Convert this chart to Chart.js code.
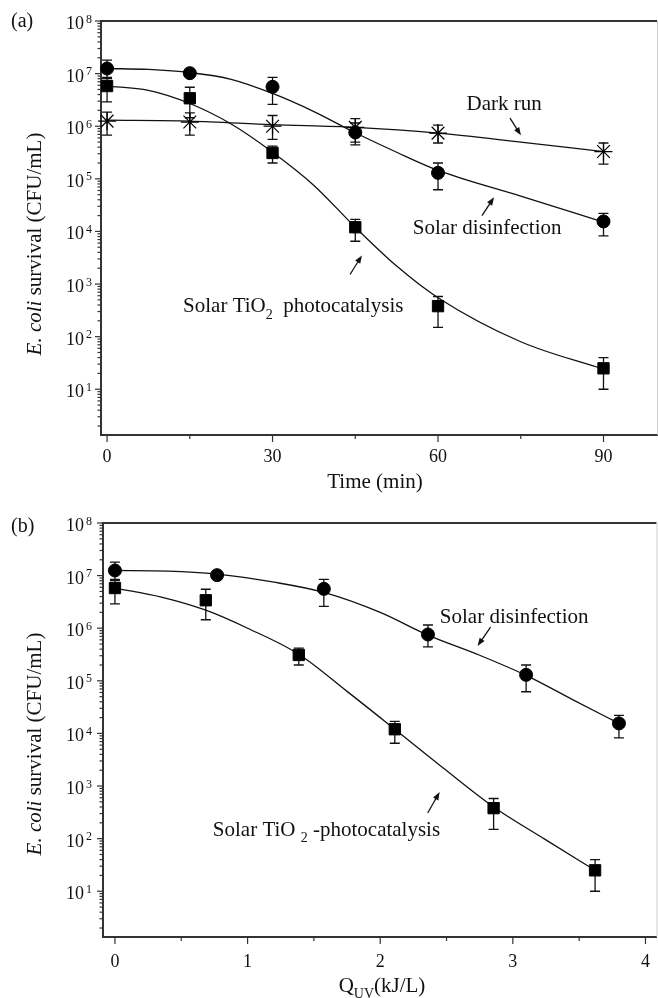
<!DOCTYPE html>
<html>
<head>
<meta charset="utf-8">
<script src="https://cdn.jsdelivr.net/npm/chart.js@4.4.1/dist/chart.umd.min.js"></script>
<style>
  html, body { margin: 0; padding: 0; background: #fff; }
  #wrap { position: relative; width: 658px; height: 998px; }
  canvas { position: absolute; left: 0; }
  #panelA { top: 0; }
  #panelB { top: 498px; }
</style>
</head>
<body>
<div id="wrap">
  <canvas id="panelA" width="658" height="498"></canvas>
  <canvas id="panelB" width="658" height="500"></canvas>
</div>
<script>
const timeMin = [0, 15, 30, 45, 60, 90];
const quvSolar = [0, 0.77, 1.575, 2.36, 3.10, 3.80];
const quvTio2 = [0, 0.685, 1.386, 2.11, 2.855, 3.62];

const solarCfu = [1.25e7, 1.02e7, 5.6e6, 7.6e5, 1.3e5, 1.55e4];
const solarHi = [1.8e7, 1.12e7, 8.5e6, 1.15e6, 2.0e5, 2.2e4];
const solarLo = [8.5e6, 9.2e6, 2.6e6, 4.4e5, 6.2e4, 8.2e3];

const tio2Cfu = [5.8e6, 3.4e6, 3.1e5, 1.2e4, 3.8e2, 25];
const tio2Hi = [8.0e6, 5.5e6, 4.2e5, 1.7e4, 5.8e2, 40];
const tio2Lo = [2.9e6, 1.45e6, 2.0e5, 6.5e3, 1.5e2, 10];

const darkCfu = [1.25e6, 1.2e6, 1.0e6, 9.5e5, 7.4e5, 3.3e5];
const darkHi = [1.85e6, 1.8e6, 1.6e6, 1.4e6, 1.05e6, 4.8e5];
const darkLo = [6.8e5, 6.8e5, 5.6e5, 5.0e5, 4.8e5, 1.9e5];

// fitted curves
const fitTime = [0, 7.5, 15, 22.5, 30, 37.5, 45, 52.5, 60, 75, 90];
const solarFitA = [1.25e7, 1.2e7, 1.05e7, 7.8e6, 4.2e6, 1.9e6, 7.5e5, 3.2e5, 1.45e5, 4.7e4, 1.5e4];
const tio2FitA = [5.8e6, 4.8e6, 2.7e6, 1.1e6, 3.2e5, 7.5e4, 1.2e4, 2.2e3, 5.5e2, 80, 24];
const darkFitTime = [0, 15, 30, 45, 60, 75, 90];
const darkFit = [1.3e6, 1.25e6, 1.07e6, 9.5e5, 7.4e5, 5.0e5, 3.3e5];

const fitQuvSolar = [0, 0.4, 0.77, 1.2, 1.575, 2.0, 2.36, 2.75, 3.10, 3.45, 3.80];
const solarFitB = [1.25e7, 1.22e7, 1.07e7, 7.5e6, 4.8e6, 2.0e6, 7.4e5, 3.06e5, 1.27e5, 4.4e4, 1.55e4];
const fitQuvTio2 = [0, 0.35, 0.685, 1.0, 1.386, 1.75, 2.11, 2.48, 2.855, 3.24, 3.62];
const tio2FitB = [5.8e6, 3.9e6, 2.2e6, 1.0e6, 3.2e5, 6.3e4, 1.2e4, 2.15e3, 4.0e2, 98, 25];

// axis ticks
const timeTicks = [0, 15, 30, 45, 60, 75, 90];
const timeLabels = [0, 30, 60, 90];
const quvTicks = [0, 0.5, 1, 1.5, 2, 2.5, 3, 3.5, 4];
const quvLabels = [0, 1, 2, 3, 4];
const yDecades = [1, 2, 3, 4, 5, 6, 7, 8];

const SERIF = '"Liberation Serif", "Times New Roman", serif';

function pts(xs, ys) {
    return xs.map((x, i) => ({x: x, y: ys[i]}));
}

function fontOf(p, size) {
    return (p.italic ? 'italic ' : '') + Math.round(p.sub ? size * 0.65 : size) + 'px ' + SERIF;
}

// draws text made of pieces (italic / subscript), y = middle of capitals
function richText(ctx, parts, x, y, align, size) {
    let w = 0;
    parts.forEach(p => { ctx.font = fontOf(p, size); w += ctx.measureText(p.t).width; });
    let cx = align === 'center' ? x - w / 2 : x;
    const base = y + size * 0.33;
    ctx.textAlign = 'left';
    ctx.textBaseline = 'alphabetic';
    parts.forEach(p => {
        ctx.font = fontOf(p, size);
        ctx.fillText(p.t, cx, p.sub ? base + size * 0.3 : base);
        cx += ctx.measureText(p.t).width;
    });
}

function arrow(ctx, x1, y1, x2, y2) {
    const a = Math.atan2(y2 - y1, x2 - x1);
    ctx.beginPath();
    ctx.moveTo(x1, y1);
    ctx.lineTo(x2 - 6 * Math.cos(a), y2 - 6 * Math.sin(a));
    ctx.stroke();
    ctx.beginPath();
    ctx.moveTo(x2, y2);
    ctx.lineTo(x2 - 8 * Math.cos(a) + 3 * Math.sin(a), y2 - 8 * Math.sin(a) - 3 * Math.cos(a));
    ctx.lineTo(x2 - 8 * Math.cos(a) - 3 * Math.sin(a), y2 - 8 * Math.sin(a) + 3 * Math.cos(a));
    ctx.closePath();
    ctx.fill();
}

const deco = {
    id: 'deco',
    beforeDatasetsDraw(chart) {
        // error bars
        const ctx = chart.ctx, ys = chart.scales.y;
        ctx.save();
        ctx.strokeStyle = '#111';
        ctx.lineWidth = 1.3;
        chart.data.datasets.forEach((ds, i) => {
            if (!ds.errHi) return;
            chart.getDatasetMeta(i).data.forEach((pt, j) => {
                const top = ys.getPixelForValue(ds.errHi[j]);
                const bot = ys.getPixelForValue(ds.errLo[j]);
                ctx.beginPath();
                ctx.moveTo(pt.x, top); ctx.lineTo(pt.x, bot);
                ctx.moveTo(pt.x - 5, top); ctx.lineTo(pt.x + 5, top);
                ctx.moveTo(pt.x - 5, bot); ctx.lineTo(pt.x + 5, bot);
                ctx.stroke();
            });
        });
        ctx.restore();
    },
    afterDraw(chart, args, opts) {
        const ctx = chart.ctx, area = chart.chartArea;
        const xs = chart.scales.x, ys = chart.scales.y;
        ctx.save();
        ctx.strokeStyle = '#333';
        ctx.fillStyle = '#111';

        // top frame line + faint right edge
        ctx.lineWidth = 2;
        ctx.beginPath();
        ctx.moveTo(area.left, area.top); ctx.lineTo(area.right, area.top);
        ctx.stroke();
        ctx.strokeStyle = '#ccc';
        ctx.lineWidth = 1;
        ctx.beginPath();
        ctx.moveTo(area.right + 0.5, area.top); ctx.lineTo(area.right + 0.5, area.bottom);
        ctx.stroke();

        // y ticks (log, with minor ticks) and 10^n labels
        ctx.strokeStyle = '#333';
        ctx.lineWidth = 1.2;
        for (let d = 0; d <= 8; d++) {
            for (let m = 1; m <= 9; m++) {
                const v = m * Math.pow(10, d);
                if (v < ys.min || v > ys.max) continue;
                const py = ys.getPixelForValue(v);
                const len = m === 1 ? 6 : 3.5;
                ctx.beginPath();
                ctx.moveTo(area.left - len, py); ctx.lineTo(area.left, py);
                ctx.stroke();
            }
        }
        yDecades.forEach(d => {
            const py = ys.getPixelForValue(Math.pow(10, d));
            ctx.textBaseline = 'alphabetic';
            ctx.textAlign = 'right';
            ctx.font = '18px ' + SERIF;
            ctx.fillText('10', 84, py + 8);
            ctx.textAlign = 'left';
            ctx.font = '12px ' + SERIF;
            ctx.fillText(String(d), 86, py + 1.5);
        });

        // x ticks
        xs.ticks.forEach(t => {
            const px = xs.getPixelForValue(t.value);
            const len = opts.xMajor.includes(t.value) ? 7 : 4;
            ctx.beginPath();
            ctx.moveTo(px, area.bottom); ctx.lineTo(px, area.bottom + len);
            ctx.stroke();
        });

        // panel letter and axis titles
        richText(ctx, [{t: opts.letter}], 11, opts.letterY, 'left', 20);
        ctx.save();
        ctx.translate(34, opts.yTitleY);
        ctx.rotate(-Math.PI / 2);
        richText(ctx, [{t: 'E. coli', italic: true}, {t: ' survival (CFU/mL)'}], 0, 0, 'center', 21);
        ctx.restore();
        richText(ctx, opts.xTitle, opts.xTitleX, opts.xTitleY, 'center', 21);

        // annotations with arrows, placed in data units
        ctx.lineWidth = 1.3;
        ctx.strokeStyle = '#111';
        opts.notes.forEach(n => {
            richText(ctx, n.parts, xs.getPixelForValue(n.x), ys.getPixelForValue(n.y), n.align, 21);
            arrow(ctx,
                xs.getPixelForValue(n.arrow[0]), ys.getPixelForValue(n.arrow[1]),
                xs.getPixelForValue(n.arrow[2]), ys.getPixelForValue(n.arrow[3]));
        });
        ctx.restore();
    }
};

function markerSet(data, style, radius, hi, lo) {
    return {
        data: data, pointStyle: style, pointRadius: radius, pointHoverRadius: radius,
        backgroundColor: style === 'star' ? 'rgba(0,0,0,0)' : '#000',
        borderColor: '#000', borderWidth: style === 'star' ? 1.2 : 1,
        showLine: false, clip: false, errHi: hi, errLo: lo
    };
}

function fitSet(data) {
    return {
        data: data, showLine: true, pointRadius: 0, borderColor: '#111', borderWidth: 1.3,
        cubicInterpolationMode: 'monotone', fill: false
    };
}

function axes(xMin, xMax, ticks, labels, axisW, axisH, pad) {
    return {
        x: {
            type: 'linear', min: xMin, max: xMax,
            afterBuildTicks: s => { s.ticks = ticks.map(v => ({value: v})); },
            afterFit: s => { s.height = axisH; },
            grid: {display: false, drawTicks: true, tickLength: 6},
            border: {display: true, color: '#333', width: 2},
            ticks: {
                autoSkip: false, maxRotation: 0, padding: pad, color: '#111',
                font: {family: SERIF, size: 18},
                callback: v => labels.includes(v) ? String(v) : ''
            }
        },
        y: {
            type: 'logarithmic', min: 1.35, max: 1e8,
            afterFit: s => { s.width = axisW; },
            grid: {display: false},
            border: {display: true, color: '#333', width: 2},
            ticks: {display: false}
        }
    };
}

new Chart(document.getElementById('panelA'), {
    type: 'scatter',
    data: {
        datasets: [
            markerSet(pts(timeMin, solarCfu), 'circle', 6.5, solarHi, solarLo),
            markerSet(pts(timeMin, tio2Cfu), 'rect', 8, tio2Hi, tio2Lo),
            markerSet(pts(timeMin, darkCfu), 'star', 9, darkHi, darkLo),
            fitSet(pts(fitTime, solarFitA)),
            fitSet(pts(fitTime, tio2FitA)),
            fitSet(pts(darkFitTime, darkFit))
        ]
    },
    options: {
        responsive: false, animation: false, devicePixelRatio: 1,
        layout: {autoPadding: false, padding: {top: 21, right: 1, left: 0, bottom: 0}},
        scales: axes(-1.1, 99.7, timeTicks, timeLabels, 101, 63, 5),
        plugins: {
            legend: {display: false}, tooltip: {enabled: false},
            deco: {
                letter: '(a)', letterY: 20, yTitleY: 244,
                xTitle: [{t: 'Time (min)'}], xTitleX: 375, xTitleY: 481,
                xMajor: timeLabels,
                notes: [
                    {parts: [{t: 'Dark run'}], x: 72, y: 2.74e6, align: 'center', arrow: [73.05, 1.42e6, 75.04, 6.7e5]},
                    {parts: [{t: 'Solar disinfection'}], x: 68.9, y: 1.19e4, align: 'center', arrow: [67.97, 2.0e4, 70.15, 4.45e4]},
                    {parts: [{t: 'Solar TiO'}, {t: '2', sub: true}, {t: '  photocatalysis'}], x: 13.78, y: 3.9e2, align: 'left', arrow: [44.05, 1.52e3, 46.2, 3.5e3]}
                ]
            }
        }
    },
    plugins: [deco]
});

new Chart(document.getElementById('panelB'), {
    type: 'scatter',
    data: {
        datasets: [
            markerSet(pts(quvSolar, solarCfu), 'circle', 6.5, solarHi, solarLo),
            markerSet(pts(quvTio2, tio2Cfu), 'rect', 8, tio2Hi, tio2Lo),
            fitSet(pts(fitQuvSolar, solarFitB)),
            fitSet(pts(fitQuvTio2, tio2FitB))
        ]
    },
    options: {
        responsive: false, animation: false, devicePixelRatio: 1,
        layout: {autoPadding: false, padding: {top: 25, right: 1, left: 0, bottom: 0}},
        scales: axes(-0.09, 4.083, quvTicks, quvLabels, 103, 61, 8),
        plugins: {
            legend: {display: false}, tooltip: {enabled: false},
            deco: {
                letter: '(b)', letterY: 27, yTitleY: 246,
                xTitle: [{t: 'Q'}, {t: 'UV', sub: true}, {t: '(kJ/L)'}], xTitleX: 382, xTitleY: 487,
                xMajor: quvLabels,
                notes: [
                    {parts: [{t: 'Solar disinfection'}], x: 3.01, y: 1.71e6, align: 'center', arrow: [2.832, 1.05e6, 2.734, 4.6e5]},
                    {parts: [{t: 'Solar TiO '}, {t: '2', sub: true}, {t: ' -photocatalysis'}], x: 0.738, y: 152, align: 'left', arrow: [2.358, 307, 2.448, 769]}
                ]
            }
        }
    },
    plugins: [deco]
});
</script>
</body>
</html>
